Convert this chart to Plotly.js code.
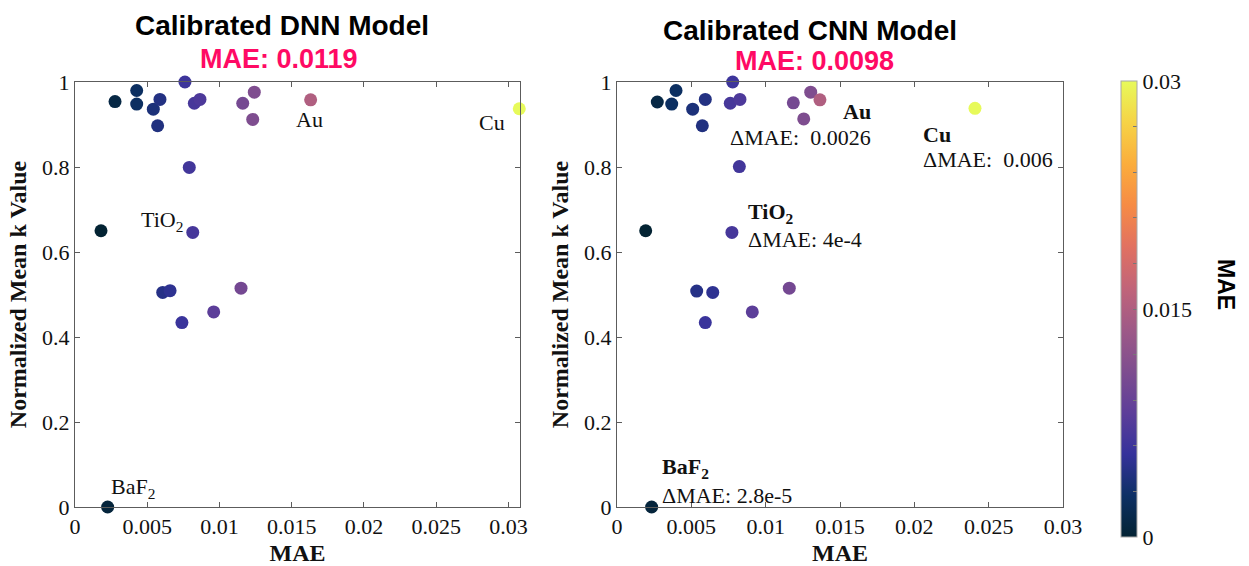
<!DOCTYPE html>
<html>
<head>
<meta charset="utf-8">
<script src="https://cdn.plot.ly/plotly-3.0.1.min.js"></script>
<style>html,body{margin:0;padding:0;background:#fff;}#chart{width:1249px;height:566px;}</style>
</head>
<body>
<div id="chart"></div>
<script>
// Calibrated DNN model: MAE per material and normalized mean k value
const dnnMAE = [0.00277, 0.00427, 0.00427, 0.00542, 0.00588, 0.00572, 0.00761, 0.00826, 0.00865, 0.01161, 0.01241, 0.01230, 0.01631, 0.00791, 0.00815, 0.00180, 0.00607, 0.00658, 0.00740, 0.00960, 0.01149, 0.00226, 0.03075];
const dnnK   = [0.954, 0.980, 0.948, 0.936, 0.959, 0.897, 1.000, 0.950, 0.959, 0.950, 0.976, 0.912, 0.958, 0.799, 0.646, 0.650, 0.505, 0.509, 0.434, 0.459, 0.515, 0.000, 0.937];
// Calibrated CNN model (same materials, same order)
const cnnMAE = [0.00271, 0.00397, 0.00368, 0.00509, 0.00594, 0.00574, 0.00778, 0.00762, 0.00827, 0.01186, 0.01303, 0.01256, 0.01365, 0.00823, 0.00773, 0.00193, 0.00536, 0.00644, 0.00594, 0.00910, 0.01159, 0.00233, 0.02408];
const cnnK   = [0.953, 0.980, 0.948, 0.936, 0.959, 0.897, 1.000, 0.950, 0.959, 0.951, 0.976, 0.913, 0.958, 0.801, 0.646, 0.650, 0.508, 0.505, 0.434, 0.459, 0.515, 0.000, 0.938];

const panelTitles = ["Calibrated DNN Model", "Calibrated CNN Model"];
const panelMAE = ["MAE: 0.0119", "MAE: 0.0098"];
const cbTickVals = [0, 0.003, 0.006, 0.009, 0.012, 0.015, 0.018, 0.021, 0.024, 0.027, 0.03];
const cbTickText = ["0", "", "", "", "", "0.015", "", "", "", "", "0.03"];

const thermal = [
  [0.0, 'rgb(3,35,51)'], [0.0909, 'rgb(13,48,100)'], [0.1818, 'rgb(53,50,155)'],
  [0.2727, 'rgb(93,62,153)'], [0.3636, 'rgb(126,77,143)'], [0.4545, 'rgb(158,89,135)'],
  [0.5454, 'rgb(193,100,121)'], [0.6363, 'rgb(225,113,97)'], [0.7272, 'rgb(246,139,69)'],
  [0.8181, 'rgb(251,173,60)'], [0.9090, 'rgb(246,211,70)'], [1.0, 'rgb(231,250,90)']
];
// colour limits of the markers (auto limits of the DNN MAE data)
const markerCMin = 0.0018, markerCMax = 0.0307;

const W = 1249, T = 82, B = 59, H = 566;
const ph = H - T - B;
const px = v => v / W;
const py = v => (H - B - v) / ph;

const serif = "Liberation Serif, Times New Roman, serif";
const sans = "Liberation Sans, Arial, sans-serif";

const traces = [
  {
    x: dnnMAE, y: dnnK, type: 'scatter', mode: 'markers', xaxis: 'x', yaxis: 'y',
    cliponaxis: false, hoverinfo: 'x+y',
    marker: {size: 13, color: dnnMAE, colorscale: thermal, cmin: markerCMin, cmax: markerCMax, showscale: false}
  },
  {
    x: cnnMAE, y: cnnK, type: 'scatter', mode: 'markers', xaxis: 'x2', yaxis: 'y2',
    cliponaxis: false, hoverinfo: 'x+y',
    marker: {size: 13, color: dnnMAE, colorscale: thermal, cmin: markerCMin, cmax: markerCMax, showscale: false}
  },
  {
    // colour bar only
    x: [null], y: [null], type: 'scatter', mode: 'markers', xaxis: 'x', yaxis: 'y', hoverinfo: 'skip',
    marker: {
      size: 1, color: [0], colorscale: thermal, cmin: 0, cmax: 0.03, showscale: true,
      colorbar: {
        x: px(1121), xanchor: 'left', xpad: 0, ypad: 0,
        y: py(81), yanchor: 'top', lenmode: 'pixels', len: 456,
        thickness: 16, outlinecolor: '#a8a8a8', outlinewidth: 1,
        tickmode: 'array', tickvals: cbTickVals, ticktext: cbTickText,
        ticks: 'inside', ticklen: 4, tickcolor: '#777',
        tickfont: {family: serif, size: 22, color: '#111'}
      }
    }
  }
];

const axBase = {
  showline: true, linecolor: '#5c5c5c', linewidth: 1, mirror: 'ticks',
  ticks: 'inside', ticklen: 5, tickcolor: '#5c5c5c',
  showgrid: false, zeroline: false,
  tickfont: {family: serif, size: 22, color: '#111'}
};
const xTitle = {text: '<b>MAE</b>', font: {family: serif, size: 24, color: '#111'}, standoff: 6};
const yTitle = {text: '<b>Normalized Mean k Value</b>', font: {family: serif, size: 24, color: '#111'}, standoff: 8};

const layout = {
  width: W, height: H,
  margin: {l: 0, r: 0, t: T, b: B, pad: 0},
  paper_bgcolor: '#fff', plot_bgcolor: '#fff',
  showlegend: false,
  font: {family: serif, color: '#111'},
  xaxis: Object.assign({}, axBase, {domain: [px(75), px(520)], range: [0, 0.0308], tick0: 0, dtick: 0.005, anchor: 'y', title: xTitle}),
  yaxis: Object.assign({}, axBase, {domain: [0, 1], range: [0, 1], tick0: 0, dtick: 0.2, anchor: 'x', title: yTitle}),
  xaxis2: Object.assign({}, axBase, {domain: [px(617), px(1063)], range: [0, 0.03], tick0: 0, dtick: 0.005, anchor: 'y2', title: xTitle}),
  yaxis2: Object.assign({}, axBase, {domain: [0, 1], range: [0, 1], tick0: 0, dtick: 0.2, anchor: 'x2', title: yTitle}),
  annotations: []
};

const A = layout.annotations;
function ann(text, x, y, xa, ya, font, extra) {
  A.push(Object.assign({text: text, xref: 'paper', yref: 'paper', x: px(x), y: py(y), xanchor: xa, yanchor: ya,
    showarrow: false, font: font}, extra || {}));
}
const tFont = {family: sans, size: 28, color: '#000'};
const mFont = {family: sans, size: 27, color: '#ff0a64'};
ann('<b>' + panelTitles[0] + '</b>', 281.5, 26, 'center', 'middle', tFont);
ann('<b>' + panelMAE[0] + '</b>', 279, 59, 'center', 'middle', mFont);
ann('<b>' + panelTitles[1] + '</b>', 810, 31, 'center', 'middle', tFont);
ann('<b>' + panelMAE[1] + '</b>', 814, 61, 'center', 'middle', mFont);

const lFont = {family: serif, size: 22, color: '#111'};
// left panel labels
ann('Au', 309.5, 119, 'center', 'middle', lFont);
ann('Cu', 491.5, 122, 'center', 'middle', lFont);
ann('TiO<sub>2</sub>', 139, 221, 'left', 'middle', lFont);
ann('BaF<sub>2</sub>', 109, 488, 'left', 'middle', lFont);
// right panel labels
ann('<b>Au</b>', 873, 112, 'right', 'middle', lFont);
ann('\u0394MAE:\u00a0 0.0026', 873, 138, 'right', 'middle', lFont);
ann('<b>Cu</b>', 921, 134, 'left', 'middle', lFont);
ann('\u0394MAE:\u00a0 0.006', 921, 160, 'left', 'middle', lFont);
ann('<b>TiO<sub>2</sub></b>', 746, 213, 'left', 'middle', lFont);
ann('\u0394MAE: 4e-4', 746, 239, 'left', 'middle', lFont);
ann('<b>BaF<sub>2</sub></b>', 660, 468, 'left', 'middle', lFont);
ann('\u0394MAE: 2.8e-5', 660, 495, 'left', 'middle', lFont);
// colorbar title
ann('<b>MAE</b>', 1226, 284, 'center', 'middle', {family: sans, size: 23, color: '#000'}, {textangle: 90});

Plotly.newPlot('chart', traces, layout, {displayModeBar: false, staticPlot: true});
</script>
</body>
</html>
